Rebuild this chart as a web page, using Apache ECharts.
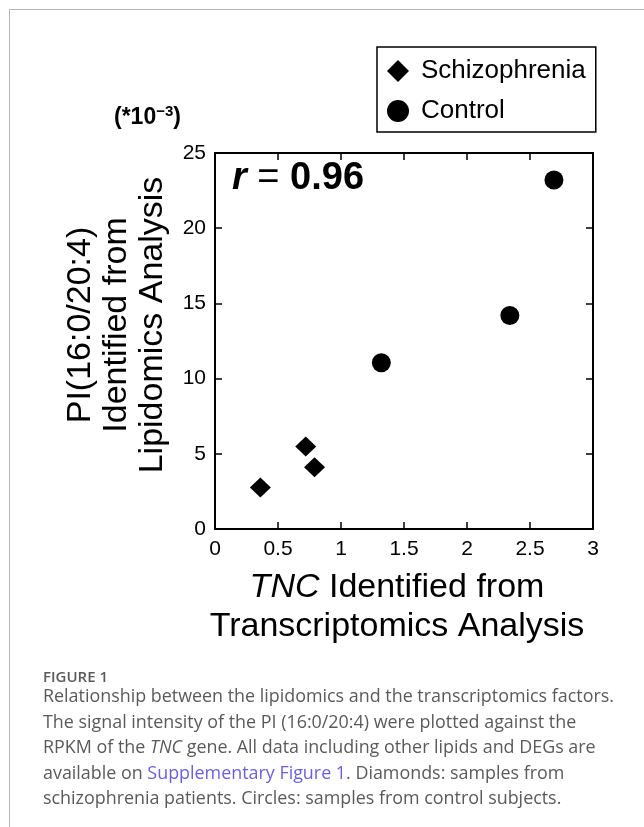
<!DOCTYPE html>
<html>
<head>
<meta charset="utf-8">
<script src="https://cdn.jsdelivr.net/npm/echarts@6/dist/echarts.min.js"></script>
<style>
html,body{margin:0;padding:0;background:#fff;}
#wrap{position:relative;width:644px;height:827px;overflow:hidden;}
#card{position:absolute;left:9px;top:9px;width:700px;height:900px;border-top:1px solid #b5b5b5;border-left:1px solid #b5b5b5;}
#chart{position:absolute;left:0;top:0;width:644px;height:827px;}
#cap{position:absolute;left:43px;top:669px;width:610px;font-family:"Open Sans",sans-serif;color:#5a5a5a;white-space:nowrap;}
#cap .fig{font-size:15px;font-weight:600;line-height:14px;color:#5a5a5a;}
#cap .txt{font-size:17.9px;line-height:25.5px;}
#cap a{color:#6a5ee8;text-decoration:none;}
</style>
</head>
<body>
<div id="wrap">
<div id="card"></div>
<div id="chart"></div>
<div id="cap">
<div class="fig">FIGURE 1</div>
<div class="txt">Relationship between the lipidomics and the transcriptomics factors.<br>The signal intensity of the PI (16:0/20:4) were plotted against the<br>RPKM of the <i>TNC</i> gene. All data including other lipids and DEGs are<br>available on <a>Supplementary Figure 1</a>. Diamonds: samples from<br>schizophrenia patients. Circles: samples from control subjects.</div>
</div>
</div>
<script>
// Data
const seriesNames = ['Schizophrenia', 'Control'];
const schizoX = [0.36, 0.72, 0.79];
const schizoY = [2.76, 5.48, 4.11];
const controlX = [1.32, 2.34, 2.69];
const controlY = [11.05, 14.2, 23.2];
const xTicks = [0, 0.5, 1, 1.5, 2, 2.5, 3];
const yTicks = [0, 5, 10, 15, 20, 25];
const rText = '0.96';

const pair = (xs, ys) => xs.map((x, i) => [x, ys[i]]);
const FONT = '"Liberation Sans", Arial, sans-serif';

const chart = echarts.init(document.getElementById('chart'), null, {renderer: 'canvas'});
const axisCommon = {
  axisLine: {show: true, onZero: false, lineStyle: {color: '#000', width: 2}},
  axisTick: {show: true, inside: true, length: 7, lineStyle: {color: '#000', width: 1.5}},
  splitLine: {show: false}
};
chart.setOption({
  animation: false,
  backgroundColor: 'transparent',
  grid: {left: 215, right: 51, top: 153, bottom: 298, containLabel: false},
  xAxis: [
    Object.assign({type: 'value', position: 'bottom', min: xTicks[0], max: xTicks[xTicks.length - 1], interval: 0.5,
      axisLabel: {color: '#000', fontSize: 21, fontFamily: FONT, margin: 10,
        formatter: v => String(v)}}, axisCommon),
    Object.assign({type: 'value', position: 'top', min: xTicks[0], max: xTicks[xTicks.length - 1], interval: 0.5,
      axisLabel: {show: false}}, axisCommon)
  ],
  yAxis: [
    Object.assign({type: 'value', position: 'left', min: yTicks[0], max: yTicks[yTicks.length - 1], interval: 5,
      axisLabel: {color: '#000', fontSize: 21, fontFamily: FONT, margin: 9}}, axisCommon),
    Object.assign({type: 'value', position: 'right', min: yTicks[0], max: yTicks[yTicks.length - 1], interval: 5,
      axisLabel: {show: false}}, axisCommon)
  ],
  legend: {
    orient: 'vertical', left: 377, top: 47,
    borderColor: '#000', borderWidth: 1.5, borderRadius: 0,
    padding: [11, 10, 8, 10], itemGap: 14,
    itemWidth: 22, itemHeight: 22,
    itemStyle: {opacity: 1, color: '#000'},
    textStyle: {color: '#000', fontSize: 26, fontFamily: FONT, padding: [0, 0, 0, 7]},
    data: [
      {name: seriesNames[0], icon: 'diamond'},
      {name: seriesNames[1], icon: 'circle'}
    ]
  },
  series: [
    {name: seriesNames[0], type: 'scatter', symbol: 'diamond', symbolSize: [21, 20],
      itemStyle: {color: '#000', opacity: 1}, data: pair(schizoX, schizoY)},
    {name: seriesNames[1], type: 'scatter', symbol: 'circle', symbolSize: 19,
      itemStyle: {color: '#000', opacity: 1}, data: pair(controlX, controlY)}
  ],
  graphic: [
    {type: 'text', left: 232, top: 160, style: {
      text: '{r|r}{e| = }{b|' + rText + '}',
      rich: {
        r: {fontSize: 38, fontStyle: 'italic', fontWeight: 'bold', fontFamily: FONT, fill: '#000'},
        e: {fontSize: 38, fontFamily: FONT, fill: '#000'},
        b: {fontSize: 38, fontWeight: 'bold', fontFamily: FONT, fill: '#000'}
      }}},
    {type: 'text', left: 114, top: 104, style: {
      text: '{a|(*10}{s|−3}{a|)}',
      rich: {
        a: {fontSize: 23, fontWeight: 'bold', fontFamily: FONT, fill: '#000', lineHeight: 28},
        s: {fontSize: 15, fontWeight: 'bold', fontFamily: FONT, fill: '#000', verticalAlign: 'top', lineHeight: 28, padding: [0, 0, 8, 0]}
      }}},
    {type: 'text', x: 117, y: 325, rotation: Math.PI / 2, style: {
      text: 'PI(16:0/20:4)\nIdentified from\nLipidomics Analysis',
      fontSize: 34, fontFamily: FONT, fill: '#000', lineHeight: 36,
      align: 'center', verticalAlign: 'middle'}},
    {type: 'text', x: 397, y: 607, style: {
      text: '{i|TNC}{n| Identified from}\n{n|Transcriptomics Analysis}',
      rich: {
        i: {fontSize: 34, fontStyle: 'italic', fontFamily: FONT, fill: '#000', lineHeight: 39},
        n: {fontSize: 34, fontFamily: FONT, fill: '#000', lineHeight: 39}
      },
      align: 'center', verticalAlign: 'middle'}}
  ]
});
</script>
</body>
</html>
